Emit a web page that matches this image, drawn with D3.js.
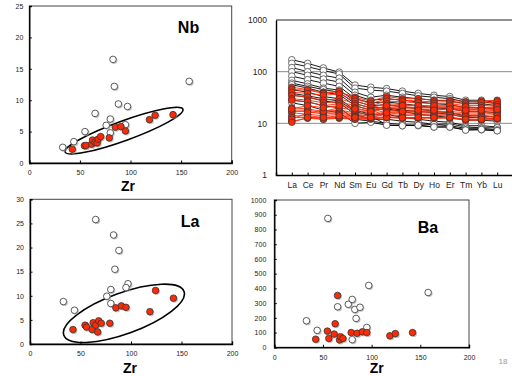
<!DOCTYPE html>
<html>
<head>
<meta charset="utf-8">
<script src="https://cdn.jsdelivr.net/npm/d3@7/dist/d3.min.js"></script>
<style>
  body { margin: 0; background: #fff; }
  svg { display: block; font-family: "Liberation Sans", Arial, sans-serif; }
</style>
</head>
<body>
<svg id="chart" width="512" height="376"></svg>
<script>
// ---- data: open (white) samples ----
const zrOpen = [33, 44, 55, 65, 76, 80, 80, 82.7, 84, 88, 97, 95, 158];
const nbOpen = [2.5, 3.4, 5.0, 7.9, 6.0, 7.0, 4.8, 16.5, 12.2, 9.4, 9.0, 6.1, 13.0];
const laOpen = [8.8, 7.0, 3.8, 25.8, 9.9, 11.3, 8.4, 22.6, 15.5, 19.4, 12.5, 11.7, 38];
const baOpen = [180, 115, 875, 275, 292, 325, 52, 257, 196, 272, 420, 135, 372];

// ---- data: red samples ----
const zrRed = [42.5, 54.5, 56, 61.5, 62.5, 65, 67, 68, 70.5, 79, 85, 90.5, 95, 118.7, 124.3, 142];
const nbRed = [2.2, 2.75, 2.8, 3.0, 3.65, 3.3, 3.2, 3.8, 4.2, 4.0, 5.7, 5.8, 5.1, 6.9, 7.6, 7.7];
const laRed = [3.0, 3.9, 3.5, 3.0, 4.4, 3.9, 2.5, 4.8, 4.3, 4.3, 7.5, 7.9, 7.6, 6.7, 11.1, 9.5];
const baRed = [55, 110, 60, 90, 160, 352, 50, 72, 60, 100, 95, 105, 100, 78, 93, 100];

// ---- REE (chondrite normalised) ----
const reeNames = ['La', 'Ce', 'Pr', 'Nd', 'Sm', 'Eu', 'Gd', 'Tb', 'Dy', 'Ho', 'Er', 'Tm', 'Yb', 'Lu'];
const reeOpen = [
  [170, 145, 118, 98, 55, 50, 47, 42, 38, 35, 33, 28, 28, 25],
  [145, 125, 105, 90, 48, 44, 42, 38, 34, 32, 30, 26, 26, 24],
  [120, 100, 85, 75, 40, 32, 35, 32, 30, 28, 27, 24, 24, 22],
  [100, 85, 72, 63, 35, 28, 30, 28, 26, 24, 23, 20, 20, 19],
  [82, 70, 60, 52, 30, 25, 26, 24, 22, 20, 19, 17, 17, 16],
  [68, 58, 48, 44, 27, 22, 23, 21, 19, 17, 16, 14, 14, 13],
  [60, 52, 45, 40, 24, 20, 20, 18, 17, 16, 15, 13, 13, 12],
  [56, 48, 40, 36, 22, 18, 19, 17, 15, 14, 13, 11.5, 11.5, 11],
  [45, 40, 33, 30, 18, 15, 15, 13, 12, 11, 10.5, 9, 9, 8.5],
  [38, 34, 30, 27, 17, 14, 9.3, 9, 9.3, 9.5, 9.8, 8.5, 8.2, 8.2],
  [35, 32, 27, 25, 15, 12, 12, 11, 10.5, 9.5, 9, 8, 8, 7.5],
  [28, 26, 22, 20, 12, 11, 10, 9.5, 9, 8.5, 8.5, 7.5, 7.5, 7.2],
  [25, 22, 18, 16, 10, 10.5, 9.2, 9, 9.2, 8.5, 8.5, 7.4, 7.6, 7.2]
];
const reeRed = [
  [50, 45, 40, 40, 32, 27, 33, 30, 30, 28, 28, 26, 27, 28],
  [45, 44, 38, 42, 30, 24, 30, 28, 27, 26, 26, 24, 25, 26],
  [40, 38, 35, 37, 27, 22, 27, 26, 25, 24, 24, 22, 22, 23],
  [35, 32, 28, 30, 24, 20, 24, 23, 22, 21, 21, 20, 20, 21],
  [30, 28, 25, 26, 22, 18, 22, 21, 20, 20, 20, 18, 19, 20],
  [28, 26, 22, 24, 20, 17, 20, 19, 19, 18, 19, 17, 17, 18],
  [20, 19, 17, 18, 16, 15, 18, 17, 17, 17, 17, 16, 16, 17],
  [18, 18, 16, 17, 15, 14, 17, 16, 16, 16, 16, 15, 15, 16],
  [17, 17, 15, 16, 14, 14, 16, 15, 15, 15, 15, 14, 14, 15],
  [16, 15, 14, 15, 13.5, 13, 15, 14, 14.5, 14, 14.5, 13.5, 13, 14],
  [14, 14, 13, 13, 12.5, 12.5, 13.5, 13, 13, 13, 13, 12, 12, 12.5],
  [13, 13, 12, 12.5, 12, 12, 13, 12.5, 12.5, 12.5, 12.5, 11.5, 11.5, 12],
  [11, 12.5, 12, 13, 12, 12.5, 13, 12.8, 13, 13, 13, 12, 12, 12.5],
  [12, 16, 17, 20, 18, 16, 20, 20, 20, 20, 20, 19, 19, 19],
  [19, 22, 20, 22, 19, 17, 22, 22, 22, 22, 22, 21, 20, 21],
  [10.5, 13, 13, 14, 13, 13, 16, 17, 18, 18, 19, 18, 18, 18.5]
];

const zrTicks = [0, 50, 100, 150, 200];
const reeTicks = [1, 10, 100, 1000];

// ellipse annotations, major axis ends in data units
const nbEllipse = { x1: 35.4, y1: 1.74, x2: 151.8, y2: 8.55 };
const laEllipse = { x1: 33.5, y1: 1.82, x2: 152.5, y2: 10.9 };

const RED = '#ff2a05';
const svg = d3.select('#chart');

function zip(xs, ys) { return xs.map((x, i) => [x, ys[i]]); }

function scatterPanel(o) {
    const x = d3.scaleLinear().domain([0, 200]).range([o.left, o.right]);
    const y = d3.scaleLinear().domain([0, o.yMax]).range([o.bottom, o.top]);
    const g = svg.append('g');

    // frame
    g.append('rect')
        .attr('x', o.left).attr('y', o.top)
        .attr('width', o.right - o.left).attr('height', o.bottom - o.top)
        .attr('fill', 'none').attr('stroke', '#444').attr('stroke-width', 1);

    const yAxis = g.append('g')
        .attr('transform', `translate(${o.left},0)`)
        .call(d3.axisLeft(y).tickValues(d3.range(0, o.yMax + 1, o.yStep))
            .tickFormat(d3.format('d')).tickSize(-2.5).tickPadding(o.yPad));
    const xAxis = g.append('g')
        .attr('transform', `translate(0,${o.bottom})`)
        .call(d3.axisBottom(x).tickValues(zrTicks).tickSize(-2.5).tickPadding(o.xPad));
    [xAxis, yAxis].forEach(a => {
        a.select('.domain').attr('stroke', '#000').attr('stroke-width', 1.4);
        a.selectAll('.tick line').attr('stroke', '#000');
        a.selectAll('.tick text').attr('font-size', 7).attr('fill', '#222');
    });

    // clip for points
    const clipId = 'clip' + o.name;
    g.append('clipPath').attr('id', clipId)
      .append('rect').attr('x', o.left).attr('y', o.top)
        .attr('width', o.right - o.left).attr('height', o.bottom - o.top);
    const pg = g.append('g').attr('clip-path', `url(#${clipId})`);

    if (o.ellipse) {
        const e = o.ellipse;
        const px1 = x(e.x1), py1 = y(e.y1), px2 = x(e.x2), py2 = y(e.y2);
        const cx = (px1 + px2) / 2, cy = (py1 + py2) / 2;
        const rx = Math.hypot(px2 - px1, py2 - py1) / 2;
        const ang = Math.atan2(py2 - py1, px2 - px1) * 180 / Math.PI;
        pg.append('ellipse')
            .attr('cx', 0).attr('cy', 0).attr('rx', rx).attr('ry', o.ellipseRy)
            .attr('transform', `translate(${cx},${cy}) rotate(${ang})`)
            .attr('fill', 'none').attr('stroke', '#000').attr('stroke-width', 1.6);
    }

    const groups = [
        { pts: zip(zrOpen, o.open), fill: '#fff' },
        { pts: zip(zrRed, o.red), fill: RED }
    ];
    groups.forEach(gr => {
        pg.selectAll(null).data(gr.pts).enter().append('circle')
            .attr('cx', d => x(d[0]) + 1.1).attr('cy', d => y(d[1]) + 1.1)
            .attr('r', 3.4).attr('fill', '#9a9a9a').attr('opacity', 0.6);
        pg.selectAll(null).data(gr.pts).enter().append('circle')
            .attr('cx', d => x(d[0])).attr('cy', d => y(d[1]))
            .attr('r', 3.3).attr('fill', gr.fill)
            .attr('stroke', '#333').attr('stroke-width', 0.8);
    });

    g.append('text').text(o.name)
        .attr('x', o.nameX).attr('y', o.nameY)
        .attr('text-anchor', 'middle').attr('font-size', 16).attr('font-weight', 'bold');
    g.append('text').text('Zr')
        .attr('x', o.zrX).attr('y', o.zrY)
        .attr('text-anchor', 'middle').attr('font-size', 14).attr('font-weight', 'bold');
}

scatterPanel({ name: 'Nb', left: 29.3, right: 231.7, top: 6, bottom: 163, yMax: 25, yStep: 5,
    yPad: 6, xPad: 7, open: nbOpen, red: nbRed, ellipse: nbEllipse, ellipseRy: 9.8,
    nameX: 188.5, nameY: 33, zrX: 128, zrY: 191 });
scatterPanel({ name: 'La', left: 30, right: 232, top: 199.3, bottom: 344, yMax: 30, yStep: 5,
    yPad: 6, xPad: 7, open: laOpen, red: laRed, ellipse: laEllipse, ellipseRy: 20.5,
    nameX: 190, nameY: 226.7, zrX: 130, zrY: 373 });
scatterPanel({ name: 'Ba', left: 274.3, right: 469, top: 200, bottom: 347.3, yMax: 1000, yStep: 100,
    yPad: 8, xPad: 8, open: baOpen, red: baRed, ellipse: null,
    nameX: 428, nameY: 232.7, zrX: 376.7, zrY: 373 });

// ---- REE spider diagram ----
(function () {
    const left = 276, right = 513, top = 20, bottom = 175;
    const x = d3.scalePoint().domain(reeNames).range([left, right]).padding(1);
    const y = d3.scaleLog().domain([1, 1000]).range([bottom, top]);
    const g = svg.append('g');

    // gridlines
    g.selectAll(null).data([10, 100]).enter().append('line')
        .attr('x1', left).attr('x2', 512)
        .attr('y1', d => y(d)).attr('y2', d => y(d))
        .attr('stroke', '#8c8c8c').attr('stroke-width', 1);
    g.append('line').attr('x1', left).attr('x2', 512)
        .attr('y1', y(1000)).attr('y2', y(1000))
        .attr('stroke', '#222').attr('stroke-width', 1);

    const yAxis = g.append('g').attr('transform', `translate(${left},0)`)
        .call(d3.axisLeft(y).tickValues(reeTicks).tickFormat(d3.format('d')).tickSize(0).tickPadding(9));
    const xAxis = g.append('g').attr('transform', `translate(0,${bottom})`)
        .call(d3.axisBottom(x).tickSize(-2.5).tickPadding(7));
    [xAxis, yAxis].forEach(a => {
        a.select('.domain').attr('stroke', '#000').attr('stroke-width', 1.4);
        a.selectAll('.tick line').attr('stroke', '#000');
        a.selectAll('.tick text').attr('font-size', 8.5).attr('fill', '#222');
    });

    const line = d3.line().x((d, i) => x(reeNames[i])).y(d => y(d));
    const sets = [
        { rows: reeOpen, stroke: '#000', fill: '#fff' },
        { rows: reeRed, stroke: RED, fill: RED }
    ];
    sets.forEach(s => {
        g.selectAll(null).data(s.rows).enter().append('path')
            .attr('d', line).attr('fill', 'none')
            .attr('stroke', s.stroke).attr('stroke-width', 0.9);
    });
    sets.forEach(s => {
        const pts = s.rows.flatMap(r => r.map((v, i) => [reeNames[i], v]));
        g.selectAll(null).data(pts).enter().append('circle')
            .attr('cx', d => x(d[0])).attr('cy', d => y(d[1]))
            .attr('r', 3.3).attr('fill', s.fill)
            .attr('stroke', '#333').attr('stroke-width', 0.7);
    });
})();

// slide number
svg.append('text').text('18')
    .attr('x', 503).attr('y', 364)
    .attr('text-anchor', 'middle').attr('font-size', 8).attr('fill', '#999');
</script>
</body>
</html>
